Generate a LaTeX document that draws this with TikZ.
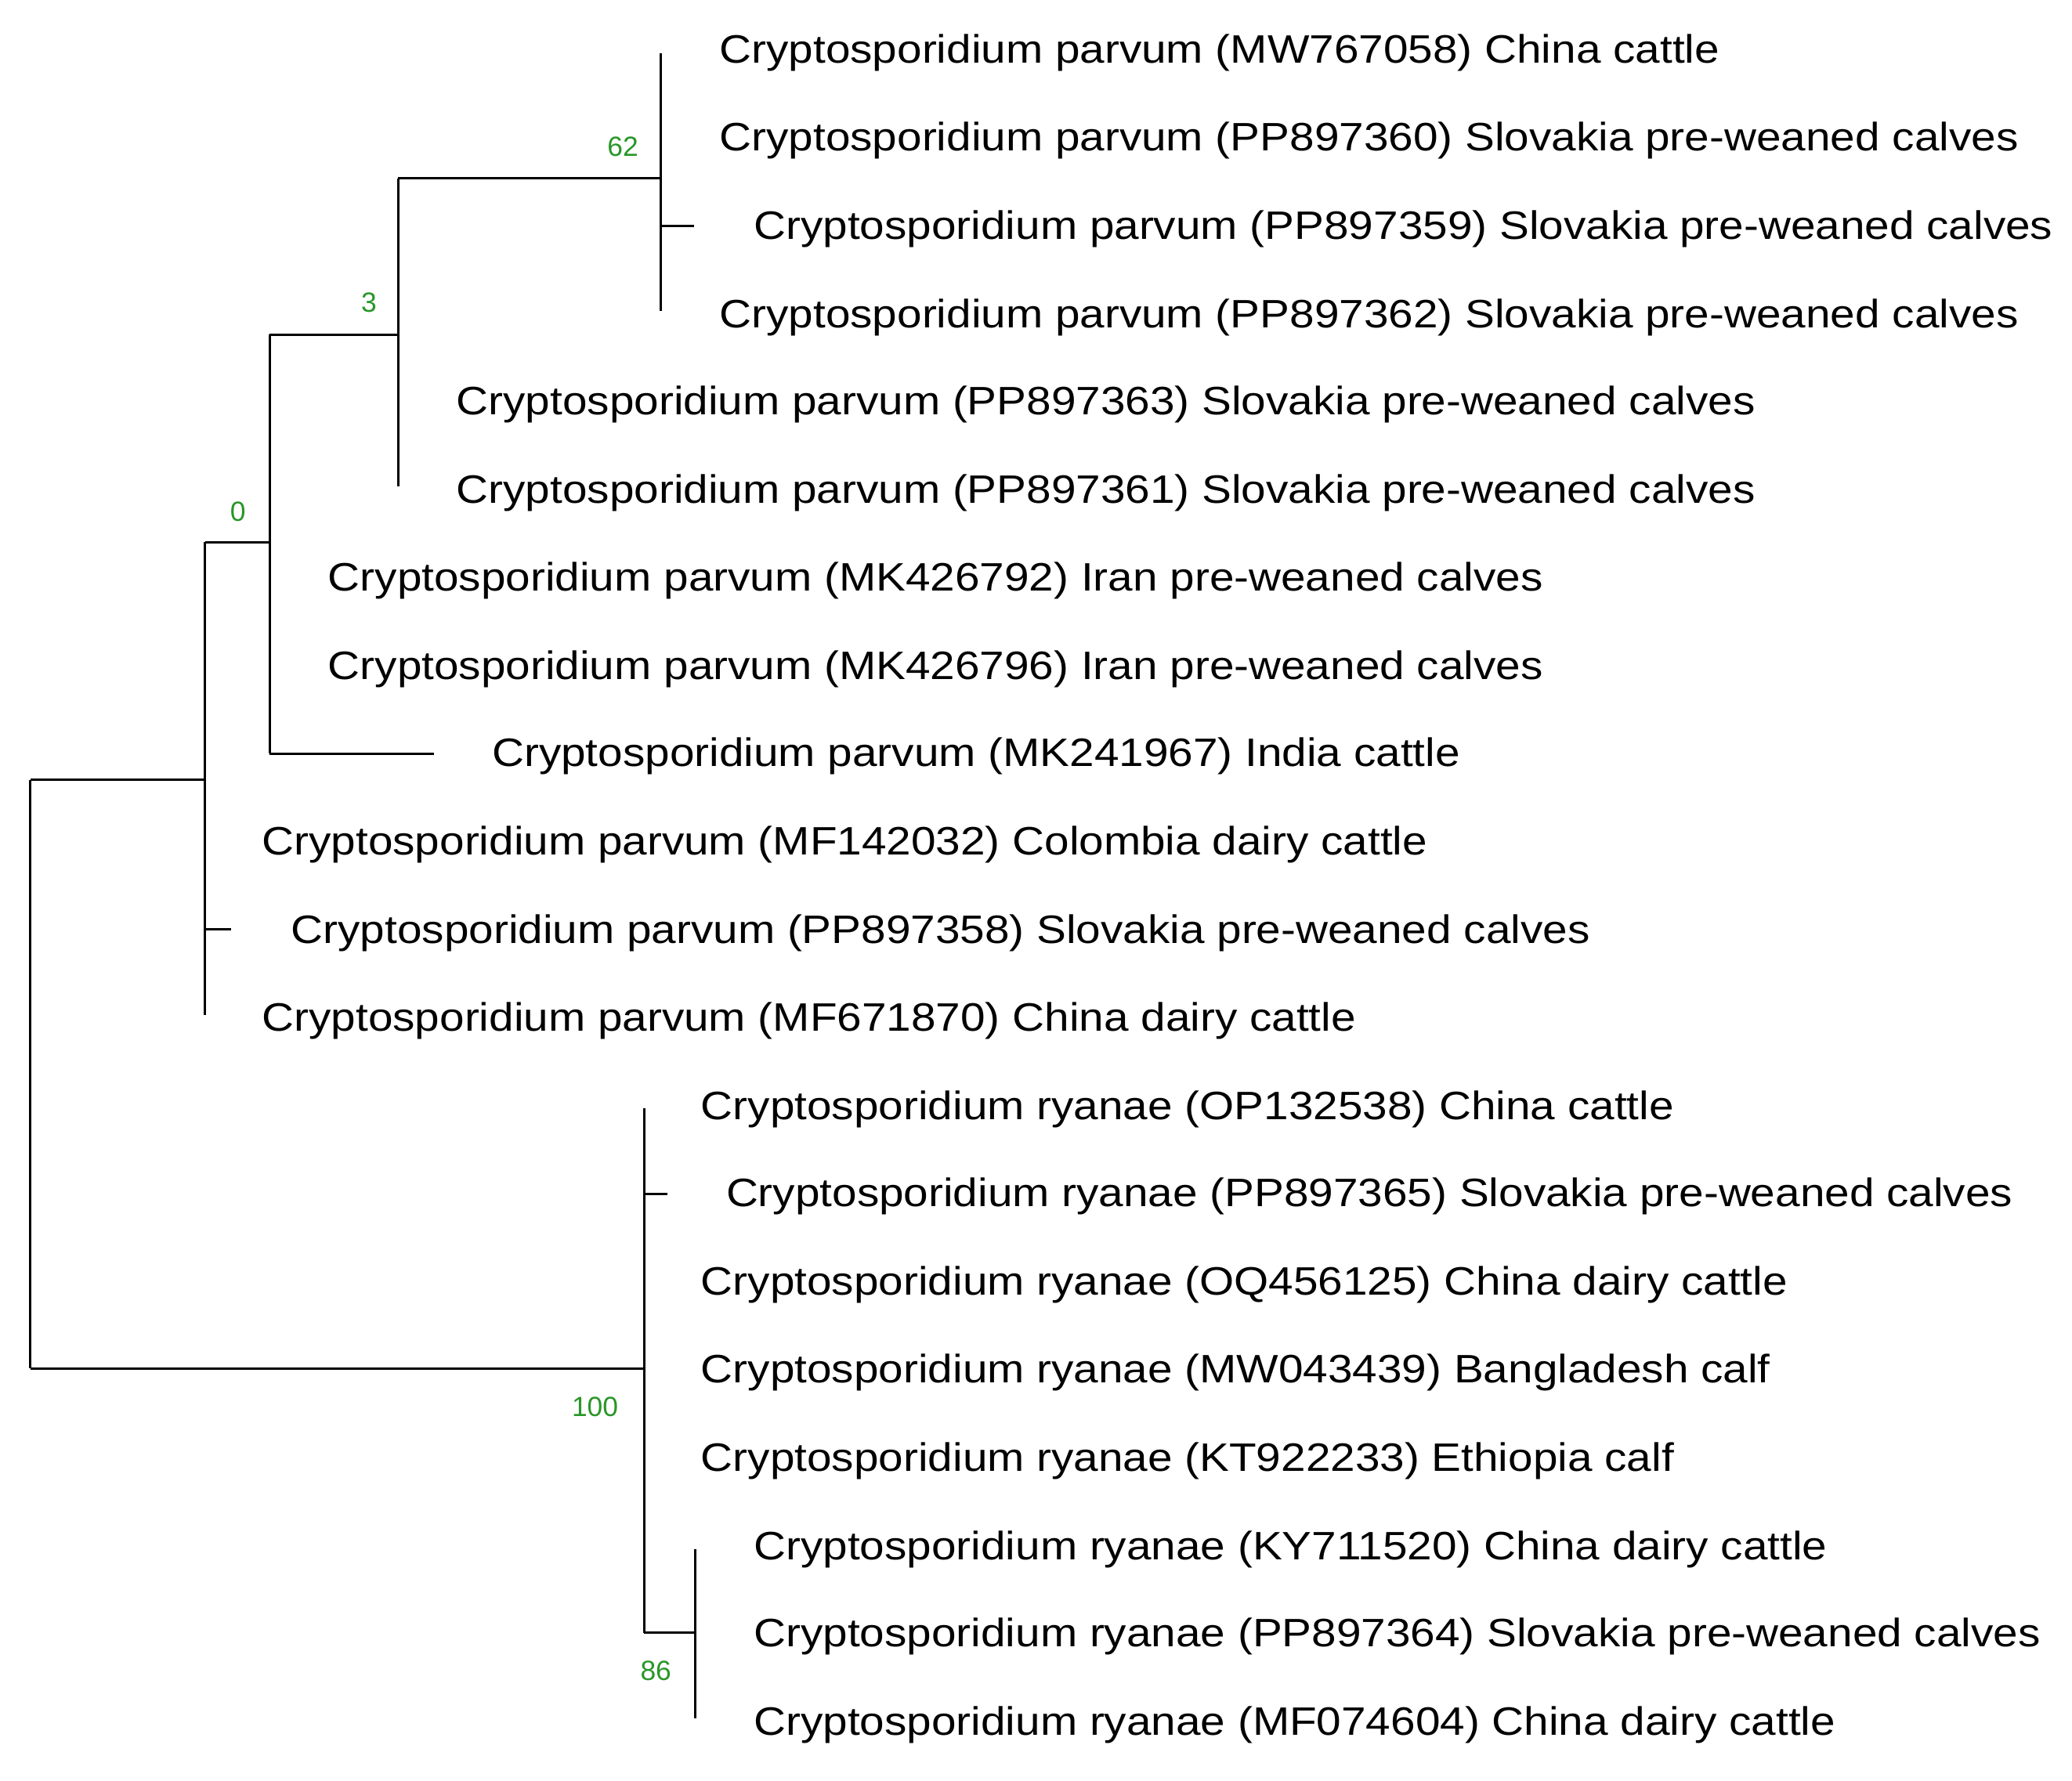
\documentclass[tikz,border=0pt]{standalone}
\usepackage{fontspec}
\setmainfont{Liberation Sans}
\newfontfamily\leaffont[FakeStretch=1.12]{Liberation Sans}
\begin{document}
\begin{tikzpicture}[x=1pt,y=-1pt,
  br/.style={line width=1.8pt,black},
  leaf/.style={anchor=west,inner sep=0pt,yshift=-2pt,font=\leaffont\fontsize{30}{32}\selectfont},
  boot/.style={anchor=center,inner sep=0pt,text={rgb,255:red,40;green,150;blue,40},font=\fontsize{21}{22}\selectfont}]
\useasboundingbox (0,0) rectangle (1567,1347);
\coordinate (r1) at (23,590); \coordinate (r2) at (23,1035);
\coordinate (a1) at (155,590); \coordinate (a0) at (155,410); \coordinate (a3) at (155,768);
\coordinate (b0) at (204,253); \coordinate (b1) at (204,410); \coordinate (b2) at (204,570);
\coordinate (c0) at (301,135); \coordinate (c1) at (301,253); \coordinate (c2) at (301,368);
\coordinate (d0) at (500,40); \coordinate (d1) at (500,135); \coordinate (d2) at (500,235);
\coordinate (e0) at (487,838); \coordinate (e1) at (487,1035); \coordinate (e2) at (487,1235);
\coordinate (f0) at (526,1172); \coordinate (f1) at (526,1235); \coordinate (f2) at (526,1300);
\coordinate (l1) at (525,171); \coordinate (l2) at (328,570); \coordinate (l3) at (175,703);
\coordinate (a2) at (155,703); \coordinate (e3) at (487,903); \coordinate (l4) at (505,903);
\draw[br] (r1) -- (r2);
\draw[br] (r1) -- (a1); \draw[br] (r2) -- (e1);
\draw[br] (a0) -- (a3); \draw[br] (a0) -- (b1); \draw[br] (a2) -- (l3);
\draw[br] (b0) -- (b2); \draw[br] (b0) -- (c1); \draw[br] (b2) -- (l2);
\draw[br] (c0) -- (c2); \draw[br] (c0) -- (d1);
\draw[br] (d0) -- (d2); \draw[br] (d0 |- l1) -- (l1);
\draw[br] (e0) -- (e2); \draw[br] (e3) -- (l4); \draw[br] (e2) -- (f1);
\draw[br] (f0) -- (f2);
\node[boot] (s62) at (471,111) {62};
\node[boot] (s3) at (279,229) {3};
\node[boot] (s0) at (180,387) {0};
\node[boot] (s100) at (450,1064) {100};
\node[boot] (s86) at (496,1264) {86};
\node[leaf] (n1) at (544,38) {Cryptosporidium parvum (MW767058) China cattle};
\node[leaf] (n2) at (544,104) {Cryptosporidium parvum (PP897360) Slovakia pre-weaned calves};
\node[leaf] (n3) at (570,171) {Cryptosporidium parvum (PP897359) Slovakia pre-weaned calves};
\node[leaf] (n4) at (544,238) {Cryptosporidium parvum (PP897362) Slovakia pre-weaned calves};
\node[leaf] (n5) at (345,304) {Cryptosporidium parvum (PP897363) Slovakia pre-weaned calves};
\node[leaf] (n6) at (345,371) {Cryptosporidium parvum (PP897361) Slovakia pre-weaned calves};
\node[leaf] (n7) at (248,437) {Cryptosporidium parvum (MK426792) Iran pre-weaned calves};
\node[leaf] (n8) at (248,504) {Cryptosporidium parvum (MK426796) Iran pre-weaned calves};
\node[leaf] (n9) at (372,570) {Cryptosporidium parvum (MK241967) India cattle};
\node[leaf] (n10) at (198,637) {Cryptosporidium parvum (MF142032) Colombia dairy cattle};
\node[leaf] (n11) at (220,704) {Cryptosporidium parvum (PP897358) Slovakia pre-weaned calves};
\node[leaf] (n12) at (198,770) {Cryptosporidium parvum (MF671870) China dairy cattle};
\node[leaf] (n13) at (530,837) {Cryptosporidium ryanae (OP132538) China cattle};
\node[leaf] (n14) at (549,903) {Cryptosporidium ryanae (PP897365) Slovakia pre-weaned calves};
\node[leaf] (n15) at (530,970) {Cryptosporidium ryanae (OQ456125) China dairy cattle};
\node[leaf] (n16) at (530,1036) {Cryptosporidium ryanae (MW043439) Bangladesh calf};
\node[leaf] (n17) at (530,1103) {Cryptosporidium ryanae (KT922233) Ethiopia calf};
\node[leaf] (n18) at (570,1170) {Cryptosporidium ryanae (KY711520) China dairy cattle};
\node[leaf] (n19) at (570,1236) {Cryptosporidium ryanae (PP897364) Slovakia pre-weaned calves};
\node[leaf] (n20) at (570,1303) {Cryptosporidium ryanae (MF074604) China dairy cattle};
\end{tikzpicture}
\end{document}
